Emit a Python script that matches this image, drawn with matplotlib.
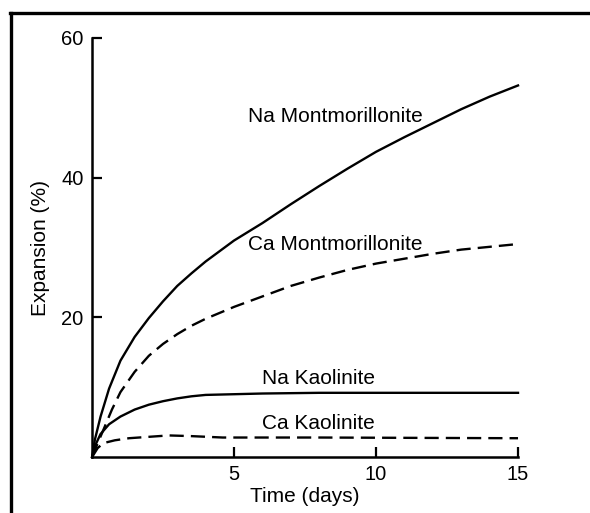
import matplotlib.pyplot as plt
from matplotlib.lines import Line2D

plt.rcParams['font.family'] = ['Liberation Sans', 'DejaVu Sans']

# readings taken off the original figure (days, % expansion)
na_mont_t = [0, 0.1, 0.3, 0.6, 1.0, 1.5, 2.0, 2.5, 3.0, 3.5, 4.0, 5.0, 6.0,
             7.0, 8.0, 9.0, 10, 11, 12, 13, 14, 15]
na_mont = [0, 2.5, 5.8, 9.8, 13.8, 17.2, 19.9, 22.3, 24.5, 26.3, 28.0, 31.0,
           33.5, 36.2, 38.8, 41.3, 43.7, 45.8, 47.8, 49.8, 51.6, 53.2]

ca_mont_t = [0, 0.2, 0.4, 0.7, 1.0, 1.5, 2.0, 2.5, 3.0, 3.5, 4.0, 5.0, 6.0,
             7.0, 8.0, 9.0, 10, 11, 12, 13, 14, 15]
ca_mont = [0, 2.0, 3.9, 6.8, 9.3, 12.2, 14.5, 16.2, 17.6, 18.8, 19.8, 21.5,
           23.0, 24.5, 25.7, 26.8, 27.7, 28.4, 29.1, 29.7, 30.1, 30.5]

na_kaol_t = [0, 0.15, 0.3, 0.6, 1.0, 1.5, 2.0, 2.5, 3.0, 3.5, 4.0, 5.0, 6.0, 8.0, 15]
na_kaol = [0, 2.0, 3.3, 4.7, 5.8, 6.8, 7.5, 8.0, 8.4, 8.7, 8.9, 9.0, 9.1, 9.2, 9.2]

ca_kaol_t = [0, 0.2, 0.4, 0.8, 1.3, 2.0, 2.7, 3.5, 4.6, 6.0, 8.0, 15]
ca_kaol = [0, 1.3, 2.0, 2.4, 2.7, 2.9, 3.1, 3.0, 2.8, 2.8, 2.8, 2.7]

x_ticks = [5, 10, 15]
y_ticks = [20, 40, 60]

fig = plt.figure(figsize=(5.9, 5.13), dpi=100)
ax = fig.add_axes([0.156, 0.109, 0.722, 0.817])

lw = 1.7
ax.plot(na_mont_t, na_mont, color='black', lw=lw, clip_on=False)
ax.plot(ca_mont_t, ca_mont, color='black', lw=lw, dashes=(6, 3), clip_on=False)
ax.plot(na_kaol_t, na_kaol, color='black', lw=lw, clip_on=False)
ax.plot(ca_kaol_t, ca_kaol, color='black', lw=lw, dashes=(6, 3), clip_on=False)

fs = 15
ax.text(5.5, 48.8, 'Na Montmorillonite', fontsize=fs, ha='left', va='center')
ax.text(5.5, 30.4, 'Ca Montmorillonite', fontsize=fs, ha='left', va='center')
ax.text(6.0, 11.2, 'Na Kaolinite', fontsize=fs, ha='left', va='center')
ax.text(6.0, 4.8, 'Ca Kaolinite', fontsize=fs, ha='left', va='center')

ax.set_xlim(0, 15)
ax.set_ylim(0, 60)
ax.set_xticks(x_ticks)
ax.set_yticks(y_ticks)
ax.tick_params(direction='in', length=7, width=1.6, labelsize=14.5, pad=6)

for side in ['top', 'right']:
    ax.spines[side].set_visible(False)
for side in ['left', 'bottom']:
    ax.spines[side].set_linewidth(1.8)

ax.set_xlabel('Time (days)', fontsize=fs)
ax.set_ylabel('Expansion (%)', fontsize=fs)
ax.xaxis.set_label_coords(0.5, -0.095)
ax.yaxis.set_label_coords(-0.122, 0.5)
ax.xaxis.label.set_va('center')
ax.yaxis.label.set_va('center')

# the scanned page frame: top and left edges only
fig.add_artist(Line2D([0.017, 1.0], [0.9747, 0.9747], color='black', lw=2.4,
                      transform=fig.transFigure))
fig.add_artist(Line2D([0.0186, 0.0186], [0.0, 0.9747], color='black', lw=2.4,
                      transform=fig.transFigure))

fig.savefig('out.png', dpi=100)
